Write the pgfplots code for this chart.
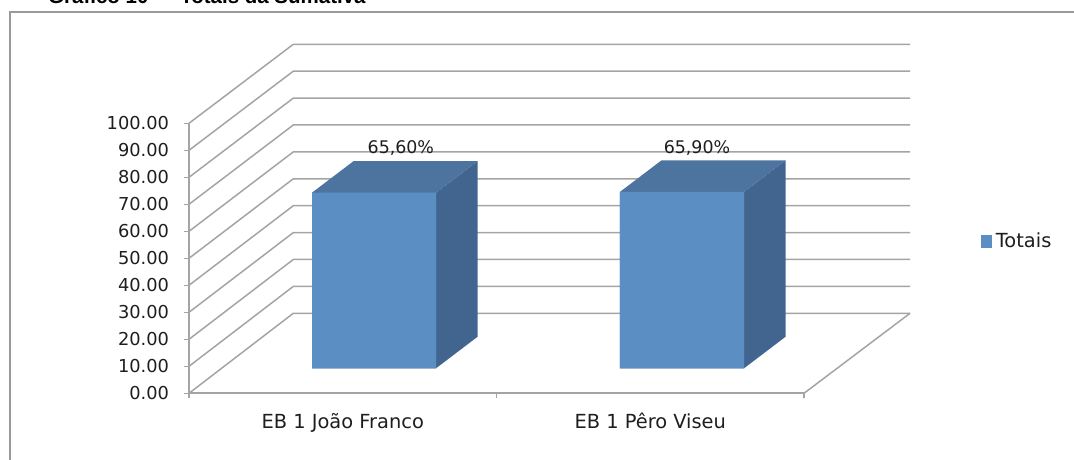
\documentclass[border=0pt]{standalone}
\usepackage{pgfplots}
\pgfplotsset{compat=1.18}
\usepackage{fontspec}
\setmainfont{DejaVu Sans}
\newfontfamily\titlefont{Liberation Sans}
\definecolor{gridc}{HTML}{A4A4A4}
\definecolor{framec}{HTML}{9A9A9A}
\definecolor{front}{HTML}{5B8FC4}
\definecolor{topf}{HTML}{4D739F}
\definecolor{sidef}{HTML}{41658F}
\definecolor{txt}{HTML}{1E1E1E}
\begin{document}
\begin{tikzpicture}[x=1pt,y=1pt]
\path[use as bounding box] (0,0) rectangle (1074,460);
\clip (0,0) rectangle (1074,460);
\draw[framec,line width=2pt] (9.5,-5) -- (9.5,447.5) -- (1080,447.5);
\node[anchor=base west,font=\titlefont\bfseries\fontsize{20.5}{20.5}\selectfont,inner sep=0pt,text=black] at (48,456.6) {Gráfico 10 — Totais da Sumativa};
% main axis: front plane, walls and grid
\begin{axis}[
  at={(189pt,66.7pt)},anchor=origin,
  scale only axis,width=615pt,height=270pt,
  xmin=0,xmax=2,ymin=0,ymax=100,clip=false,
  axis lines=left,axis line style={-,gridc,line width=1.6pt},
  tick style={gridc,line width=1.4pt},
  major tick length=5pt,
  tick align=outside,
  xtick={0,1,2},xticklabels={},
  extra x ticks={0.5,1.5},
  extra x tick labels={EB 1 João Franco,EB 1 Pêro Viseu},
  extra x tick style={major tick length=0pt,tick label style={yshift=-16.5pt,font=\fontsize{19.4}{19.4}\selectfont}},
  ytick={0,10,...,100},
  /pgf/number format/fixed,
  /pgf/number format/fixed zerofill,
  /pgf/number format/precision=2,
  /pgf/number format/assume math mode=true,
  ticklabel style={font=\fontsize{17.8}{17.8}\selectfont,text=txt},
  y tick label style={xshift=-11.5pt},
]
\addplot[gridc,line width=1.5pt] coordinates {(2,0)(2.3447,29.63)};
\addplot[gridc,line width=1.5pt] coordinates {(0,0)(0.3392,29.63)(2.3447,29.63)};
\addplot[gridc,line width=1.5pt] coordinates {(0,10)(0.3392,39.59)(2.3447,39.59)};
\addplot[gridc,line width=1.5pt] coordinates {(0,20)(0.3392,49.56)(2.3447,49.56)};
\addplot[gridc,line width=1.5pt] coordinates {(0,30)(0.3392,59.52)(2.3447,59.52)};
\addplot[gridc,line width=1.5pt] coordinates {(0,40)(0.3392,69.48)(2.3447,69.48)};
\addplot[gridc,line width=1.5pt] coordinates {(0,50)(0.3392,79.45)(2.3447,79.45)};
\addplot[gridc,line width=1.5pt] coordinates {(0,60)(0.3392,89.41)(2.3447,89.41)};
\addplot[gridc,line width=1.5pt] coordinates {(0,70)(0.3392,99.37)(2.3447,99.37)};
\addplot[gridc,line width=1.5pt] coordinates {(0,80)(0.3392,109.33)(2.3447,109.33)};
\addplot[gridc,line width=1.5pt] coordinates {(0,90)(0.3392,119.30)(2.3447,119.30)};
\addplot[gridc,line width=1.5pt] coordinates {(0,100)(0.3392,129.26)(2.3447,129.26)};
\end{axis}
% bars: origin at the bar base, y in per cent
\begin{axis}[
  at={(189pt,91.7pt)},anchor=origin,
  x=307.5pt,y=2.677pt,
  xmin=0,xmax=2,ymin=0,ymax=100,clip=false,
  axis lines=none,
  legend cell align=left,
  legend style={at={(axis cs:2.575,47.5)},anchor=west,draw=none,fill=none,inner sep=0pt,
    font=\fontsize{19.4}{19.4}\selectfont,text=txt},
]
% side faces
\addplot[fill=sidef,draw=none,forget plot] coordinates {(0.8033,0)(0.9386,11.8)(0.9386,77.4)(0.8033,65.6)} \closedcycle;
\addplot[fill=sidef,draw=none,forget plot] coordinates {(1.8049,0)(1.9402,11.8)(1.9402,77.7)(1.8049,65.9)} \closedcycle;
% top faces
\addplot[fill=topf,draw=none,forget plot] coordinates {(0.4,65.6)(0.5353,77.4)(0.9386,77.4)(0.8033,65.6)} \closedcycle;
\addplot[fill=topf,draw=none,forget plot] coordinates {(1.4016,65.9)(1.5369,77.7)(1.9402,77.7)(1.8049,65.9)} \closedcycle;
% front faces
\addplot[fill=front,draw=none,forget plot] coordinates {(0.4,0)(0.4,65.6)(0.8033,65.6)(0.8033,0)} \closedcycle;
\addplot[fill=front,draw=none,forget plot] coordinates {(1.4016,0)(1.4016,65.9)(1.8049,65.9)(1.8049,0)} \closedcycle;
\node[font=\fontsize{17.4}{17.4}\selectfont,text=txt] at (axis cs:0.689,82.2) {65,60\%};
\node[font=\fontsize{17.4}{17.4}\selectfont,text=txt] at (axis cs:1.652,82.2) {65,90\%};
\addlegendimage{legend image code/.code={\fill[front] (0pt,-6pt) rectangle (10pt,6pt);}}
\addlegendentry{\hspace{2.5pt}Totais}
\end{axis}
\end{tikzpicture}
\end{document}
